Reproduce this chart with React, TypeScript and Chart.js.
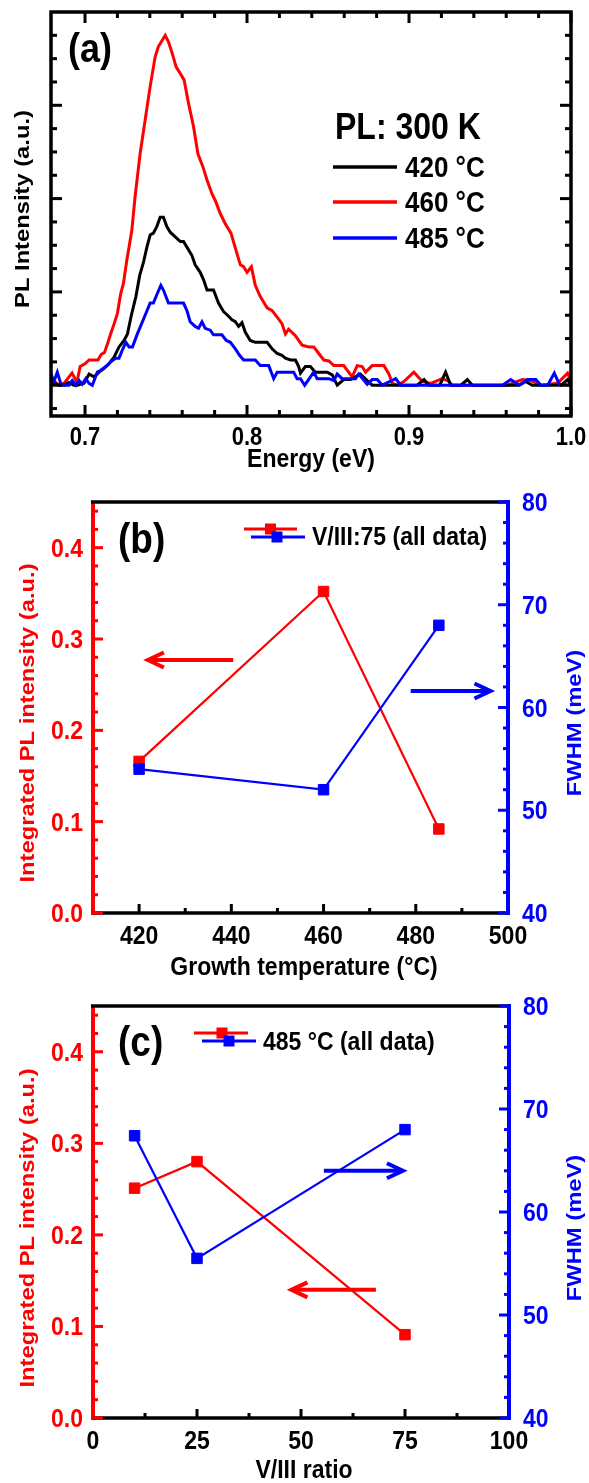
import React, { useEffect, useRef } from "react";
import { Chart, registerables } from "chart.js";

Chart.register(...registerables);

// ---------------- Panel (a): PL spectra at 300 K ----------------
const energy420 = [0.679, 0.684, 0.687, 0.69, 0.693, 0.6952, 0.6994, 0.7025, 0.7056, 0.7087, 0.7118, 0.7148, 0.7179, 0.721, 0.7241, 0.7262, 0.7286, 0.7314, 0.7338, 0.7361, 0.7382, 0.7402, 0.7422, 0.7443, 0.7464, 0.7484, 0.7505, 0.7526, 0.7557, 0.7588, 0.7608, 0.7629, 0.766, 0.768, 0.7711, 0.7732, 0.7753, 0.7793, 0.7824, 0.7855, 0.788, 0.7907, 0.7928, 0.7948, 0.7969, 0.7989, 0.802, 0.8051, 0.8124, 0.8155, 0.8186, 0.8216, 0.8237, 0.8268, 0.8299, 0.8319, 0.833, 0.836, 0.8391, 0.8422, 0.8495, 0.8526, 0.8557, 0.8597, 0.8639, 0.87, 0.8742, 0.8773, 0.905, 0.9093, 0.9123, 0.919, 0.9226, 0.9257, 0.932, 0.936, 0.9391, 0.968, 0.9721, 0.976, 0.994, 0.9979, 1.0];
const pl420 = [0.03, 0.0, 0.0, 0.03, 0.0, 0.0, 0.02, 0.12, 0.09, 0.14, 0.18, 0.23, 0.3, 0.41, 0.48, 0.55, 0.75, 0.95, 1.18, 1.32, 1.48, 1.61, 1.63, 1.7, 1.8, 1.8, 1.7, 1.64, 1.59, 1.54, 1.54, 1.48, 1.39, 1.29, 1.21, 1.13, 1.02, 1.02, 0.88, 0.79, 0.75, 0.7, 0.68, 0.63, 0.67, 0.57, 0.48, 0.46, 0.46, 0.39, 0.34, 0.32, 0.29, 0.27, 0.27, 0.2, 0.13, 0.2, 0.2, 0.14, 0.14, 0.11, 0.0, 0.06, 0.06, 0.12, 0.05, 0.0, 0.0, 0.06, 0.0, 0.0, 0.14, 0.0, 0.0, 0.06, 0.0, 0.0, 0.04, 0.0, 0.0, 0.06, 0.0];

const energy460 = [0.679, 0.684, 0.687, 0.692, 0.695, 0.697, 0.7, 0.7025, 0.708, 0.71, 0.712, 0.714, 0.716, 0.718, 0.72, 0.722, 0.7237, 0.7258, 0.7289, 0.7309, 0.734, 0.7371, 0.7402, 0.7433, 0.7453, 0.7495, 0.7515, 0.7536, 0.7563, 0.7588, 0.7612, 0.7639, 0.767, 0.7697, 0.7728, 0.7753, 0.7784, 0.7804, 0.7835, 0.7866, 0.7901, 0.7938, 0.7959, 0.7979, 0.8, 0.8027, 0.8051, 0.8082, 0.8124, 0.8155, 0.8186, 0.8216, 0.8237, 0.8257, 0.8299, 0.834, 0.8381, 0.8412, 0.8443, 0.8474, 0.8505, 0.8536, 0.8597, 0.8649, 0.868, 0.8711, 0.8732, 0.8773, 0.8845, 0.8876, 0.8897, 0.8928, 0.8968, 0.903, 0.9082, 0.9134, 0.9206, 0.9247, 0.9268, 0.9608, 0.97, 0.9752, 0.9814, 0.9917, 0.9979, 1.0];
const pl460 = [0.07, 0.0, 0.02, 0.13, 0.03, 0.2, 0.23, 0.27, 0.27, 0.33, 0.35, 0.45, 0.56, 0.66, 0.77, 0.98, 1.09, 1.34, 1.66, 2.02, 2.48, 2.84, 3.2, 3.52, 3.63, 3.75, 3.68, 3.57, 3.41, 3.34, 3.27, 3.02, 2.77, 2.48, 2.34, 2.2, 2.05, 1.98, 1.84, 1.73, 1.63, 1.41, 1.29, 1.27, 1.21, 1.27, 1.07, 0.95, 0.83, 0.8, 0.73, 0.66, 0.55, 0.6, 0.53, 0.43, 0.41, 0.41, 0.34, 0.27, 0.26, 0.21, 0.21, 0.09, 0.21, 0.2, 0.14, 0.21, 0.21, 0.12, 0.02, 0.0, 0.04, 0.14, 0.04, 0.02, 0.07, 0.04, 0.0, 0.0, 0.06, 0.05, 0.0, 0.02, 0.13, 0.05];

const energy485 = [0.679, 0.6808, 0.6829, 0.685, 0.687, 0.6901, 0.6921, 0.6943, 0.6963, 0.6983, 0.7004, 0.7025, 0.7045, 0.7076, 0.7097, 0.7128, 0.7159, 0.719, 0.721, 0.7231, 0.7252, 0.7272, 0.7293, 0.7323, 0.734, 0.7371, 0.7402, 0.7422, 0.7443, 0.7468, 0.7484, 0.7515, 0.7608, 0.7629, 0.7649, 0.768, 0.7701, 0.7722, 0.7742, 0.7773, 0.7793, 0.7845, 0.7872, 0.7897, 0.7928, 0.7954, 0.7979, 0.8051, 0.8082, 0.8134, 0.8165, 0.8186, 0.8288, 0.8309, 0.833, 0.8356, 0.8412, 0.8433, 0.8505, 0.8536, 0.8557, 0.8587, 0.867, 0.869, 0.8742, 0.8773, 0.8804, 0.8835, 0.8918, 0.8948, 0.9577, 0.9628, 0.968, 0.9732, 0.9783, 0.9814, 0.9856, 0.9897, 0.9928, 1.0];
const pl485 = [0.12, 0.04, 0.14, 0.02, 0.0, 0.0, 0.05, 0.0, 0.05, 0.01, 0.07, 0.02, 0.0, 0.14, 0.16, 0.2, 0.25, 0.29, 0.29, 0.38, 0.46, 0.41, 0.41, 0.55, 0.62, 0.75, 0.88, 0.88, 0.97, 1.07, 1.02, 0.88, 0.88, 0.8, 0.68, 0.63, 0.61, 0.68, 0.61, 0.59, 0.54, 0.54, 0.48, 0.46, 0.39, 0.32, 0.27, 0.27, 0.21, 0.21, 0.07, 0.14, 0.14, 0.07, 0.07, 0.0, 0.14, 0.07, 0.07, 0.05, 0.12, 0.07, 0.07, 0.12, 0.01, 0.06, 0.06, 0.0, 0.07, 0.0, 0.0, 0.06, 0.0, 0.06, 0.06, 0.0, 0.0, 0.13, 0.01, 0.0];

const energyTicks = [0.7, 0.8, 0.9, 1.0];
const energyTickLabels = ["0.7", "0.8", "0.9", "1.0"];
const spectraLabels = ["420 °C", "460 °C", "485 °C"];

// ---------------- Panel (b): vs growth temperature ----------------
const growthTemp = [420, 460, 485];
const intensityB = [0.166, 0.352, 0.092];
const fwhmB = [54.0, 52.0, 68.0];
const tempTicks = [420, 440, 460, 480, 500];

// ---------------- Panel (c): vs V/III ratio ----------------
const ratioVIII = [10, 25, 75];
const intensityC = [0.251, 0.28, 0.091];
const fwhmC = [67.4, 55.5, 68.0];
const ratioTicks = [0, 25, 50, 75, 100];

// shared right / left axes ticks
const intensityTicks = [0, 0.1, 0.2, 0.3, 0.4];
const intensityTickLabels = ["0.0", "0.1", "0.2", "0.3", "0.4"];
const fwhmTicks = [40, 50, 60, 70, 80];

const RED = "#ff0000";
const BLUE = "#0000ff";
const BLACK = "#000000";
const FONT = '"Liberation Sans", Arial, Helvetica, sans-serif';
const STRETCH = 1.13;

function steps(from: number, to: number, step: number) {
  const out: number[] = [];
  const n = Math.round((to - from) / step);
  for (let i = 0; i <= n; i++) out.push(+(from + i * step).toFixed(6));
  return out;
}
function without(list: number[], majors: number[]) {
  return list.filter((v) => !majors.some((m) => Math.abs(m - v) < 1e-6));
}

function txt(ctx: any, s: string, x: number, y: number, size: number, color: string, align = "left") {
  ctx.save();
  ctx.font = `bold ${size}px ${FONT}`;
  ctx.fillStyle = color;
  ctx.textAlign = align;
  ctx.textBaseline = "alphabetic";
  ctx.translate(x, y);
  ctx.scale(1, STRETCH);
  ctx.fillText(s, 0, 0);
  ctx.restore();
}
function vtxt(ctx: any, s: string, cx: number, cy: number, size: number, color: string) {
  ctx.save();
  ctx.font = `bold ${size}px ${FONT}`;
  ctx.fillStyle = color;
  ctx.textAlign = "center";
  ctx.textBaseline = "middle";
  ctx.translate(cx, cy);
  ctx.scale(1, STRETCH);
  ctx.rotate(-Math.PI / 2);
  ctx.fillText(s, 0, 0);
  ctx.restore();
}
function seg(ctx: any, x1: number, y1: number, x2: number, y2: number, color: string, w: number) {
  ctx.save();
  ctx.strokeStyle = color;
  ctx.lineWidth = w;
  ctx.lineCap = "butt";
  ctx.beginPath();
  ctx.moveTo(x1, y1);
  ctx.lineTo(x2, y2);
  ctx.stroke();
  ctx.restore();
}
function marks(ctx: any, scale: any, vals: number[], len: number, color: string, side: string, a: any, w = 3) {
  vals.forEach((v) => {
    const p = scale.getPixelForValue(v);
    if (side === "bottom") seg(ctx, p, a.bottom, p, a.bottom - len, color, w);
    if (side === "top") seg(ctx, p, a.top, p, a.top + len, color, w);
    if (side === "left") seg(ctx, a.left, p, a.left + len, p, color, w);
    if (side === "right") seg(ctx, a.right, p, a.right - len, p, color, w);
  });
}
function arrow(ctx: any, x1: number, y: number, x2: number, color: string) {
  const dir = Math.sign(x2 - x1);
  ctx.save();
  ctx.strokeStyle = color;
  ctx.lineWidth = 4;
  ctx.lineCap = "butt";
  ctx.lineJoin = "miter";
  ctx.beginPath();
  ctx.moveTo(x1, y);
  ctx.lineTo(x2 - dir * 1, y);
  ctx.stroke();
  ctx.beginPath();
  ctx.moveTo(x2 - dir * 16, y - 7.5);
  ctx.lineTo(x2, y);
  ctx.lineTo(x2 - dir * 16, y + 7.5);
  ctx.stroke();
  ctx.restore();
}
function legendSymbol(ctx: any, x1: number, x2: number, cx: number, y: number, color: string) {
  seg(ctx, x1, y, x2, y, color, 3);
  ctx.save();
  ctx.fillStyle = color;
  ctx.fillRect(cx - 5.5, y - 5.5, 11, 11);
  ctx.restore();
}

function hiddenScale(extra: any) {
  return {
    type: "linear",
    grid: { display: false },
    border: { display: false },
    ticks: { display: false },
    title: { display: false },
    ...extra,
  };
}

// ---------------- Panel (a) ----------------
const plotA = {
  id: "plotA",
  afterDatasetsDraw(chart: any) {
    const { ctx, chartArea: a } = chart;
    const x = chart.scales.x;
    const y = chart.scales.y;
    const xMinor = without(steps(0.72, 0.98, 0.02), energyTicks);
    const yMajor = [0, 1, 2, 3];
    const yMinor = without(steps(-0.25, 3.75, 0.25), yMajor);
    ["bottom", "top"].forEach((s) => {
      marks(ctx, x, energyTicks, 11, BLACK, s, a);
      marks(ctx, x, xMinor, 6, BLACK, s, a);
    });
    ["left", "right"].forEach((s) => {
      marks(ctx, y, yMajor, 11, BLACK, s, a);
      marks(ctx, y, yMinor, 6, BLACK, s, a);
    });
    ctx.save();
    ctx.strokeStyle = BLACK;
    ctx.lineWidth = 3.5;
    ctx.strokeRect(a.left, a.top, a.right - a.left, a.bottom - a.top);
    ctx.restore();

    energyTicks.forEach((v, i) => txt(ctx, energyTickLabels[i], x.getPixelForValue(v), 445, 22, BLACK, "center"));
    txt(ctx, "Energy (eV)", (a.left + a.right) / 2, 467, 23, BLACK, "center");
    vtxt(ctx, "PL Intensity (a.u.)", 23, 209, 21, BLACK);
    txt(ctx, "(a)", 68, 62, 36, BLACK);

    txt(ctx, "PL: 300 K", 335, 139, 32, BLACK);
    const colors = [BLACK, RED, BLUE];
    const rows = [167, 202, 238];
    spectraLabels.forEach((s, i) => {
      seg(ctx, 333, rows[i], 397, rows[i], colors[i], 3.5);
      txt(ctx, s, 405, rows[i] + 10, 26, BLACK);
    });
  },
};

function configA(): any {
  const series = (xs: number[], ys: number[]) => xs.map((e, i) => ({ x: e, y: ys[i] }));
  const line = (data: any, color: string, order: number) => ({
    data,
    borderColor: color,
    backgroundColor: color,
    borderWidth: 3,
    pointRadius: 0,
    tension: 0,
    order,
  });
  return {
    type: "line",
    data: {
      datasets: [
        line(series(energy420, pl420), BLACK, 1),
        line(series(energy460, pl460), RED, 2),
        line(series(energy485, pl485), BLUE, 0),
      ],
    },
    options: {
      responsive: false,
      animation: false,
      devicePixelRatio: 1,
      layout: { padding: { top: 12, right: 18, left: 0, bottom: 0 } },
      plugins: { legend: { display: false }, tooltip: { enabled: false } },
      scales: {
        x: hiddenScale({ min: 0.679, max: 1.0, afterFit: (s: any) => { s.height = 64; } }),
        y: hiddenScale({ min: -0.33, max: 4.0, afterFit: (s: any) => { s.width = 51; } }),
      },
    },
    plugins: [plotA],
  };
}

// ---------------- Panels (b) and (c) ----------------
function dualPlugin(P: any) {
  return {
    id: P.id,
    afterDatasetsDraw(chart: any) {
      const { ctx, chartArea: a } = chart;
      const x = chart.scales.x;
      const yL = chart.scales.yL;
      const yR = chart.scales.yR;
      const T = P.pageTop;
      const iMinor = without(steps(0.02, 0.44, 0.02), intensityTicks);
      const fMinor = without(steps(42, 78, 2), fwhmTicks);

      seg(ctx, a.left, a.top + 1, a.left, a.bottom + 2, RED, 4);
      seg(ctx, a.left - 2, a.top, a.right, a.top, BLACK, 3.5);
      seg(ctx, a.left, a.bottom, a.right, a.bottom, BLACK, 3.5);
      seg(ctx, a.right, a.top - 2, a.right, a.bottom + 2, BLUE, 4);

      marks(ctx, x, P.xMarks, 9, BLACK, "bottom", a);
      marks(ctx, x, P.xMinor, 5, BLACK, "bottom", a);
      marks(ctx, yL, intensityTicks, 10, RED, "left", a);
      marks(ctx, yL, iMinor, 5, RED, "left", a);
      marks(ctx, yR, fwhmTicks, 10, BLUE, "right", a);
      marks(ctx, yR, fMinor, 5, BLUE, "right", a);

      intensityTicks.forEach((v, i) =>
        txt(ctx, intensityTickLabels[i], a.left - 10, yL.getPixelForValue(v) + 9, 23, RED, "right")
      );
      fwhmTicks.forEach((v) => txt(ctx, String(v), a.right + 14, yR.getPixelForValue(v) + 9, 23, BLUE, "left"));
      P.xTicks.forEach((v: number) => txt(ctx, String(v), x.getPixelForValue(v), P.xLabelBase - T, 23, BLACK, "center"));
      txt(ctx, P.xTitle, 304, P.xTitleBase - T, 23, BLACK, "center");
      vtxt(ctx, "Integrated PL intensity (a.u.)", 28, P.yTitleY - T, 21, RED);
      vtxt(ctx, "FWHM (meV)", 575, P.yTitleY - T, 21, BLUE);
      txt(ctx, P.panel, 118, P.panelBase - T, 37, BLACK);

      legendSymbol(ctx, P.legRed[0], P.legRed[1], P.legRed[2], P.legRed[3] - T, RED);
      legendSymbol(ctx, P.legBlue[0], P.legBlue[1], P.legBlue[2], P.legBlue[3] - T, BLUE);
      txt(ctx, P.legendText, P.legText[0], P.legText[1] - T, 23, BLACK);

      P.arrows.forEach((ar: any) => {
        const sc = ar.axis === "L" ? yL : yR;
        arrow(ctx, x.getPixelForValue(ar.from), sc.getPixelForValue(ar.y), x.getPixelForValue(ar.to), ar.color);
      });
    },
  };
}

function dualConfig(xs: number[], inten: number[], fwhm: number[], xmin: number, xmax: number, top: number, xh: number, rw: number, plugin: any): any {
  const ds = (ys: number[], color: string, axis: string, order: number) => ({
    data: xs.map((v, i) => ({ x: v, y: ys[i] })),
    yAxisID: axis,
    borderColor: color,
    backgroundColor: color,
    borderWidth: 2.2,
    pointStyle: "rect",
    pointRadius: 7.4,
    pointBorderWidth: 1,
    pointBorderColor: color,
    pointBackgroundColor: color,
    tension: 0,
    order,
  });
  return {
    type: "line",
    data: { datasets: [ds(fwhm, BLUE, "yR", 0), ds(inten, RED, "yL", 1)] },
    options: {
      responsive: false,
      animation: false,
      devicePixelRatio: 1,
      layout: { padding: { top, right: 0, left: 0, bottom: 0 } },
      plugins: { legend: { display: false }, tooltip: { enabled: false } },
      scales: {
        x: hiddenScale({ min: xmin, max: xmax, afterFit: (s: any) => { s.height = xh; } }),
        yL: hiddenScale({ position: "left", min: 0, max: 0.45, afterFit: (s: any) => { s.width = 93; } }),
        yR: hiddenScale({ position: "right", min: 40, max: 80, afterFit: (s: any) => { s.width = rw; } }),
      },
    },
    plugins: [plugin],
  };
}

const plotB = dualPlugin({
  id: "plotB",
  pageTop: 480,
  xTicks: tempTicks,
  xMarks: [420, 440, 460, 480],
  xMinor: [430, 450, 470, 490],
  xLabelBase: 944,
  xTitleBase: 975,
  xTitle: "Growth temperature (°C)",
  yTitleY: 723,
  panel: "(b)",
  panelBase: 553,
  legRed: [244, 297, 270.5, 529],
  legBlue: [251, 305, 277, 537],
  legText: [312, 545],
  legendText: "V/III:75 (all data)",
  arrows: [
    { from: 440.4, to: 421.9, y: 0.277, axis: "L", color: RED },
    { from: 478.9, to: 496.2, y: 61.6, axis: "R", color: BLUE },
  ],
});

const plotC = dualPlugin({
  id: "plotC",
  pageTop: 985,
  xTicks: ratioTicks,
  xMarks: [25, 50, 75],
  xMinor: [12.5, 37.5, 62.5, 87.5],
  xLabelBase: 1449,
  xTitleBase: 1478,
  xTitle: "V/III ratio",
  yTitleY: 1228,
  panel: "(c)",
  panelBase: 1056,
  legRed: [194, 248, 222, 1033],
  legBlue: [202, 256, 229, 1041],
  legText: [263, 1050],
  legendText: "485 °C (all data)",
  arrows: [
    { from: 55.5, to: 74.5, y: 64.0, axis: "R", color: BLUE },
    { from: 68.0, to: 47.7, y: 0.14, axis: "L", color: RED },
  ],
});

export default function App() {
  const refA = useRef<HTMLCanvasElement>(null);
  const refB = useRef<HTMLCanvasElement>(null);
  const refC = useRef<HTMLCanvasElement>(null);

  useEffect(() => {
    const charts = [
      new Chart(refA.current as HTMLCanvasElement, configA()),
      new Chart(refB.current as HTMLCanvasElement, dualConfig(growthTemp, intensityB, fwhmB, 410, 500, 22, 72, 81, plotB)),
      new Chart(refC.current as HTMLCanvasElement, dualConfig(ratioVIII, intensityC, fwhmC, 0, 100, 21, 65, 80, plotC)),
    ];
    return () => charts.forEach((c) => c.destroy());
  }, []);

  const cs = (top: number, h: number): React.CSSProperties => ({
    position: "absolute",
    left: 0,
    top,
    width: 589,
    height: h,
    display: "block",
  });

  return (
    <div style={{ position: "absolute", left: 0, top: 0, width: 589, height: 1483, background: "#ffffff", overflow: "hidden" }}>
      <canvas ref={refA} width={589} height={480} style={cs(0, 480)} />
      <canvas ref={refB} width={589} height={505} style={cs(480, 505)} />
      <canvas ref={refC} width={589} height={498} style={cs(985, 498)} />
    </div>
  );
}
